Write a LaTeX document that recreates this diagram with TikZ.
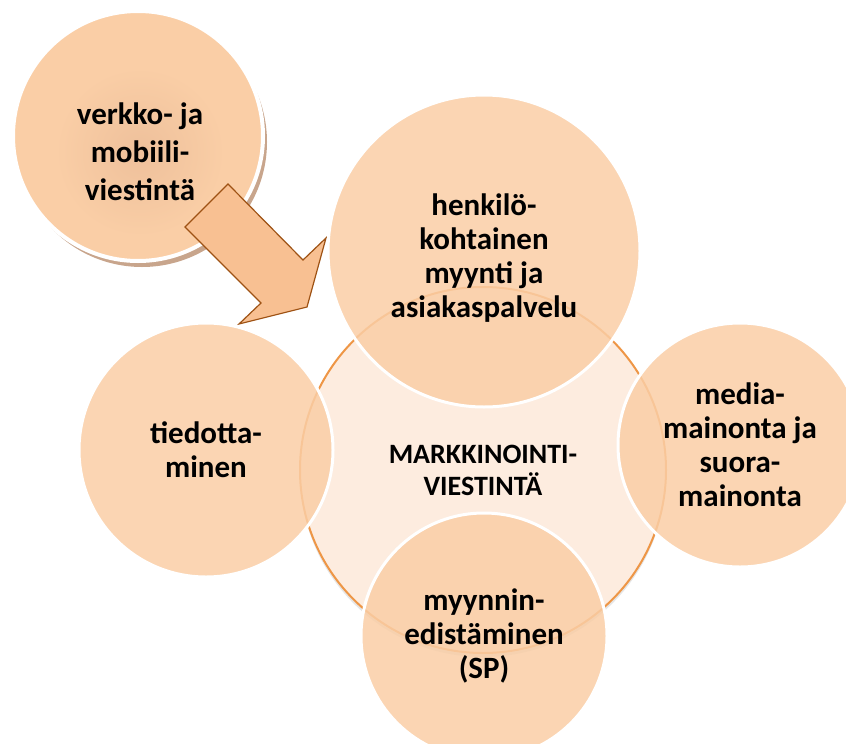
\documentclass[tikz,border=0pt]{standalone}
\usepackage{fontspec}
\setmainfont{Carlito}
\usetikzlibrary{shadows}
\definecolor{mvpeach}{RGB}{250,206,166}
\definecolor{mvhub}{RGB}{253,236,223}
\definecolor{mvorange}{RGB}{238,150,70}
\definecolor{mvarrow}{RGB}{248,192,146}
\definecolor{mvbrown}{RGB}{158,82,20}
\definecolor{mvring}{RGB}{200,165,140}
\definecolor{mvglow}{RGB}{238,192,155}
\tikzset{
    hub/.style={
        circle,draw=mvorange,line width=2pt,fill=mvhub,
        align=center,font=\fontsize{28}{32}\selectfont\bfseries,
        drop shadow={shadow xshift=0pt,shadow yshift=-4pt,opacity=.2}
    },
    bubble/.style={
        circle,draw=white,line width=3pt,fill=mvpeach,fill opacity=.85,
        text opacity=1,align=center,inner sep=0pt,
        font=\fontsize{31}{34}\selectfont\bfseries
    },
    blockarrow/.style={
        draw=mvbrown,line width=1.2pt,fill=mvarrow,line join=miter
    }
}
\begin{document}
\begin{tikzpicture}[x=1pt,y=-1pt]
\useasboundingbox (0,0) rectangle (846,744);

% shadow ring and outer bubble
\fill[mvring] (142,142) circle (125);
\node[bubble,fill opacity=1,minimum size=250pt,line width=4pt] (web) at (138,136) {};
\shade[inner color=mvglow,outer color=mvpeach] (140,152) circle (85);
\node[font=\fontsize{31}{38}\selectfont\bfseries,align=center] (webtext) at (140,152)
{verkko- ja\\mobiili-\\viestintä};

% block arrow
\draw[blockarrow] (228,184) -- (303,260) -- (326,238) -- (307,307)
    -- (239,324) -- (261,303) -- (185,227) -- cycle;

% centre and satellites
\node[hub,minimum size=366pt] (hub) at (483,470)
{MARKKINOINTI-\\VIESTINTÄ};

\node[bubble,minimum size=312pt] (sales) at (484,251) {};
\node[font=\fontsize{31}{34}\selectfont\bfseries,align=center] (salestext) at (484,258)
{henkilö-\\kohtainen\\myynti ja\\asiakaspalvelu};
\node[bubble,minimum size=254pt] (info) at (206,450)
{tiedotta-\\minen};
\node[bubble,minimum size=244pt] (media) at (740,445)
{media-\\mainonta ja\\suora-\\mainonta};
\node[bubble,minimum size=246pt] (promo) at (484,636)
{myynnin-\\edistäminen\\(SP)};

\end{tikzpicture}
\end{document}
